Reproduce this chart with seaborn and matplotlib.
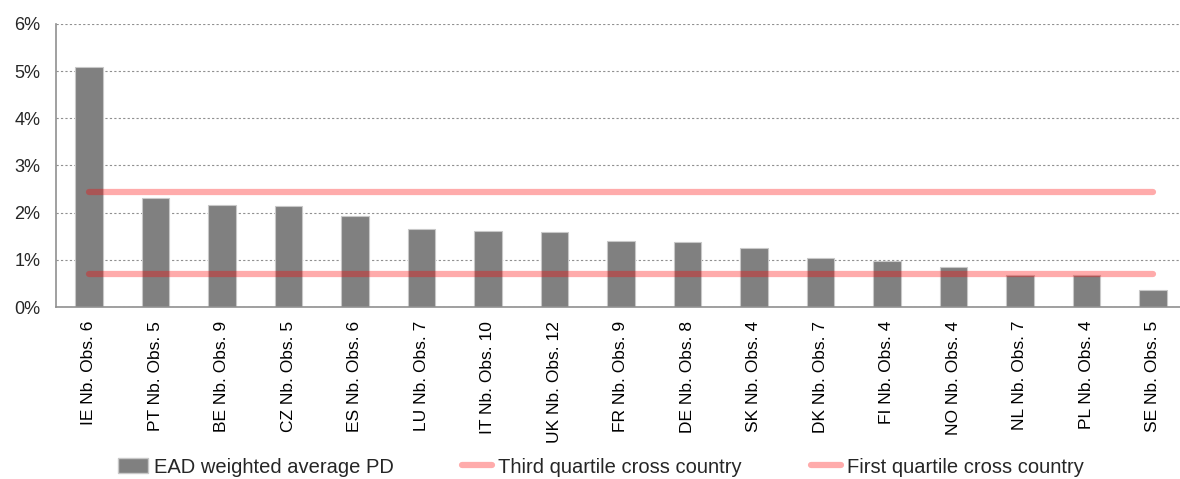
import numpy as np
import pandas as pd
import matplotlib
matplotlib.use("Agg")
import matplotlib.pyplot as plt
from matplotlib.ticker import PercentFormatter, MultipleLocator, FixedLocator
from matplotlib.patches import Patch
from matplotlib.lines import Line2D
import seaborn as sns

# Data
countries = ["IE", "PT", "BE", "CZ", "ES", "LU", "IT", "UK", "FR",
             "DE", "SK", "DK", "FI", "NO", "NL", "PL", "SE"]
n_obs = [6, 5, 9, 5, 6, 7, 10, 12, 9, 8, 4, 7, 4, 4, 7, 4, 5]
ead_pd = [0.0508, 0.0231, 0.0217, 0.0214, 0.0193, 0.0166, 0.0161, 0.0158, 0.0140,
          0.0137, 0.0126, 0.0104, 0.0098, 0.0085, 0.0067, 0.0067, 0.0037]
third_quartile = 0.0243
first_quartile = 0.0071

labels = [f"{c} Nb. Obs. {o}" for c, o in zip(countries, n_obs)]
df = pd.DataFrame({"label": labels, "pd": ead_pd})

sns.set_style("white")
plt.rcParams['font.family'] = ['Liberation Sans', 'DejaVu Sans']

fig = plt.figure(figsize=(11.8, 4.79), dpi=100)
ax = fig.add_axes([0.0472, 0.359, 0.958, 0.591])

sns.barplot(data=df, x="label", y="pd", color="#808080", saturation=1,
            width=0.41, edgecolor="#c8c8c8", linewidth=0.8, ax=ax, zorder=2)

line_kw = dict(color="#ff0000", alpha=0.33, linewidth=4.5, solid_capstyle="round", zorder=3)
xs = [0, len(labels) - 1]
ax.plot(xs, [third_quartile] * 2, **line_kw)
ax.plot(xs, [first_quartile] * 2, **line_kw)

ax.set_xlim(-0.5, len(labels) - 0.5)
ax.set_ylim(0, 0.06)
ax.yaxis.set_major_locator(MultipleLocator(0.01))
ax.yaxis.set_major_formatter(PercentFormatter(1.0, decimals=0))
ax.grid(axis="y", linestyle=(0, (2, 2)), color="#909090", linewidth=0.8, zorder=0)
ax.set_axisbelow(True)

ax.set_xlabel("")
ax.set_ylabel("")
ax.set_xticks(range(len(labels)))
ax.set_xticklabels(labels, rotation=90, fontsize=12.5, color="#000000")
ax.xaxis.set_minor_locator(FixedLocator(np.arange(-0.5, len(labels), 1.0)))
ax.tick_params(axis="x", which="major", length=0, pad=10)
ax.tick_params(axis="x", which="minor", length=5, color="#909090", width=1, direction="out")
ax.tick_params(axis="y", length=5, color="#909090", width=1, direction="out",
               labelsize=13, pad=6)

for side in ["top", "right"]:
    ax.spines[side].set_visible(False)
for side in ["left", "bottom"]:
    ax.spines[side].set_color("#909090")
    ax.spines[side].set_linewidth(1.2)

handles = [
    Patch(facecolor="#808080", edgecolor="#c8c8c8"),
    Line2D([0], [0], color="#ff0000", alpha=0.33, linewidth=4.5, solid_capstyle="round"),
    Line2D([0], [0], color="#ff0000", alpha=0.33, linewidth=4.5, solid_capstyle="round"),
]
fig.legend(handles, ["EAD weighted average PD", "Third quartile cross country",
                     "First quartile cross country"],
           loc="center", bbox_to_anchor=(0.509, 0.025), ncol=3, frameon=False,
           fontsize=14.5, handlelength=1.5, handletextpad=0.3, columnspacing=3.4)

fig.savefig("out.png", dpi=100)
